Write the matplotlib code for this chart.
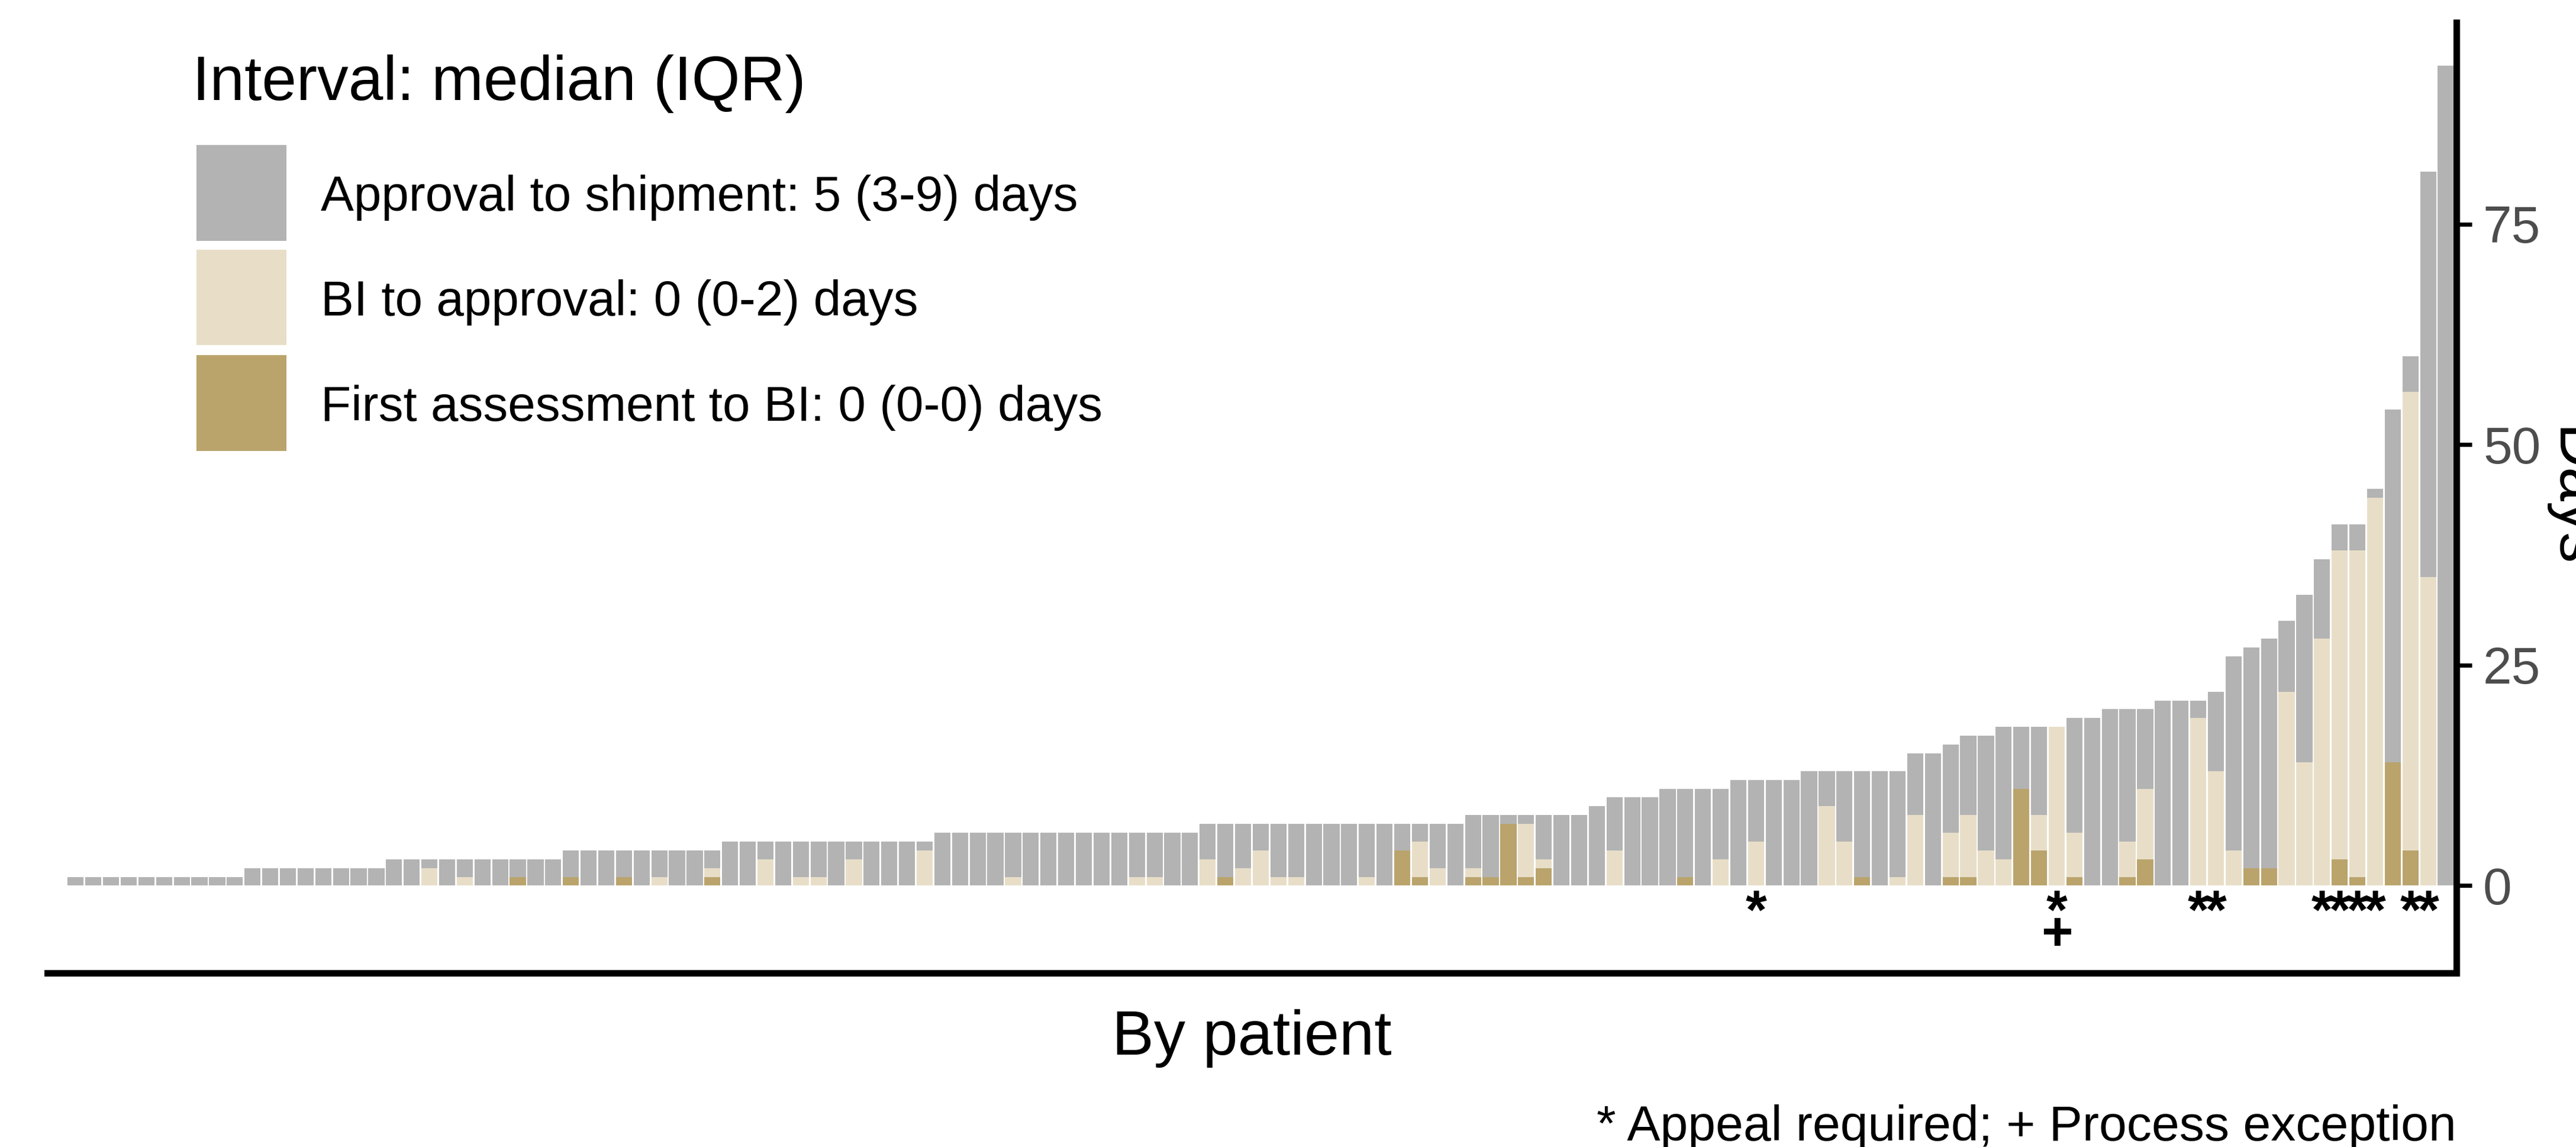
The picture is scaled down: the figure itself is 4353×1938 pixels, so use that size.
import matplotlib
matplotlib.use("Agg")
import matplotlib.pyplot as plt
from matplotlib.patches import Rectangle
import numpy as np

plt.rcParams['font.family'] = ['Liberation Sans', 'DejaVu Sans']

W, H, DPI = 4353, 1938, 300

# ---- data (one entry per patient, sorted by total days) ----
first_assessment_to_bi = [
    0, 0, 0, 0, 0, 0, 0, 0, 0, 0,
    0, 0, 0, 0, 0, 0, 0, 0, 0, 0,
    0, 0, 0, 0, 0, 1, 0, 0, 1, 0,
    0, 1, 0, 0, 0, 0, 1, 0, 0, 0,
    0, 0, 0, 0, 0, 0, 0, 0, 0, 0,
    0, 0, 0, 0, 0, 0, 0, 0, 0, 0,
    0, 0, 0, 0, 0, 1, 0, 0, 0, 0,
    0, 0, 0, 0, 0, 4, 1, 0, 0, 1,
    1, 7, 1, 2, 0, 0, 0, 0, 0, 0,
    0, 1, 0, 0, 0, 0, 0, 0, 0, 0,
    0, 1, 0, 0, 0, 0, 1, 1, 0, 0,
    11, 4, 0, 1, 0, 0, 1, 3, 0, 0,
    0, 0, 0, 2, 2, 0, 0, 0, 3, 1,
    0, 14, 4, 0, 0,
]
bi_to_approval = [
    0, 0, 0, 0, 0, 0, 0, 0, 0, 0,
    0, 0, 0, 0, 0, 0, 0, 0, 0, 0,
    2, 0, 1, 0, 0, 0, 0, 0, 0, 0,
    0, 0, 0, 1, 0, 0, 1, 0, 0, 3,
    0, 1, 1, 0, 3, 0, 0, 0, 4, 0,
    0, 0, 0, 1, 0, 0, 0, 0, 0, 0,
    1, 1, 0, 0, 3, 0, 2, 4, 1, 1,
    0, 0, 0, 1, 0, 0, 4, 2, 0, 1,
    0, 0, 6, 1, 0, 0, 0, 4, 0, 0,
    0, 0, 0, 3, 0, 5, 0, 0, 0, 9,
    5, 0, 0, 1, 8, 0, 5, 7, 4, 3,
    0, 4, 18, 5, 0, 0, 4, 8, 0, 0,
    19, 13, 4, 0, 0, 22, 14, 28, 35, 37,
    44, 0, 52, 35, 0,
]
approval_to_shipment = [
    1, 1, 1, 1, 1, 1, 1, 1, 1, 1,
    2, 2, 2, 2, 2, 2, 2, 2, 3, 3,
    1, 3, 2, 3, 3, 2, 3, 3, 3, 4,
    4, 3, 4, 3, 4, 4, 2, 5, 5, 2,
    5, 4, 4, 5, 2, 5, 5, 5, 1, 6,
    6, 6, 6, 5, 6, 6, 6, 6, 6, 6,
    5, 5, 6, 6, 4, 6, 5, 3, 6, 6,
    7, 7, 7, 6, 7, 3, 2, 5, 7, 6,
    7, 1, 1, 5, 8, 8, 9, 6, 10, 10,
    11, 10, 11, 8, 12, 7, 12, 12, 13, 4,
    8, 12, 13, 12, 7, 15, 10, 9, 13, 15,
    7, 10, 0, 13, 19, 20, 15, 9, 21, 21,
    2, 9, 22, 25, 26, 8, 19, 9, 3, 3,
    1, 40, 4, 46, 93,
]
appeal_required = [96, 113, 121, 122, 128, 129, 130, 131, 133, 134]  # patient positions (1-based)
process_exception = [113]

legend_title = "Interval: median (IQR)"
series_labels = [
    "Approval to shipment: 5 (3-9) days",
    "BI to approval: 0 (0-2) days",
    "First assessment to BI: 0 (0-0) days",
]
y_ticks = [0, 25, 50, 75]

C_GRAY = "#B3B3B3"
C_BEIGE = "#E8DEC8"
C_GOLD = "#BAA46C"

# ---- figure ----
fig = plt.figure(figsize=(W / DPI, H / DPI), dpi=DPI)
ax = fig.add_axes([80 / W, 1 - 1644 / H, (4151 - 80) / W, (1644 - 37.7) / H])

g = np.array(first_assessment_to_bi, dtype=float)
b = np.array(bi_to_approval, dtype=float)
s = np.array(approval_to_shipment, dtype=float)
x = np.arange(len(g))
bw = 0.91
ax.bar(x, g, width=bw, color=C_GOLD, linewidth=0)
ax.bar(x, b, bottom=g, width=bw, color=C_BEIGE, linewidth=0)
ax.bar(x, s, bottom=g + b, width=bw, color=C_GRAY, linewidth=0)

for p in appeal_required:
    ax.text(p - 1, -3.2, "*", ha="center", va="center", fontsize=22,
            fontweight="bold", color="black")
for p in process_exception:
    ax.text(p - 1, -5.7, "+", ha="center", va="center", fontsize=22,
            fontweight="bold", color="black")

ax.set_xlim(-1.6, 134.6)
ax.set_ylim(-9.9, 97.9)
for side in ("top", "left"):
    ax.spines[side].set_visible(False)
for side in ("right", "bottom"):
    ax.spines[side].set_linewidth(2.64)
    ax.spines[side].set_color("black")
ax.set_xticks([])
ax.yaxis.tick_right()
ax.set_yticks(y_ticks)
ax.set_yticklabels([str(t) for t in y_ticks])
ax.tick_params(axis="y", direction="out", length=6.3, width=1.7, color="black",
               labelsize=21, labelcolor="#4D4D4D", pad=4.5)
ax.patch.set_alpha(0)

# axis titles
fig.text(2115.5 / W, 1 - 1781.7 / H, "By patient", ha="center", va="baseline",
         fontsize=25.5)
fig.text(4295 / W, 1 - 841 / H, "Days", ha="left", va="center", rotation=-90,
         fontsize=25)
fig.text(4151 / W, 1 - 1926.7 / H, "* Appeal required; + Process exception",
         ha="right", va="baseline", fontsize=20.2)

# legend (drawn manually)
fig.text(325 / W, 1 - 169 / H, legend_title, ha="left", va="baseline", fontsize=25.3)
rects = [(245, 407), (422, 583), (600, 762)]
for (top, bot), lab, col in zip(rects, series_labels, [C_GRAY, C_BEIGE, C_GOLD]):
    fig.add_artist(Rectangle((332 / W, 1 - bot / H), 152 / W, (bot - top) / H,
                             transform=fig.transFigure, facecolor=col,
                             edgecolor="none"))
    yc = (top + bot) / 2 + 30
    fig.text(542 / W, 1 - yc / H, lab, ha="left", va="baseline", fontsize=20.1)

fig.savefig("out.png", dpi=DPI)
